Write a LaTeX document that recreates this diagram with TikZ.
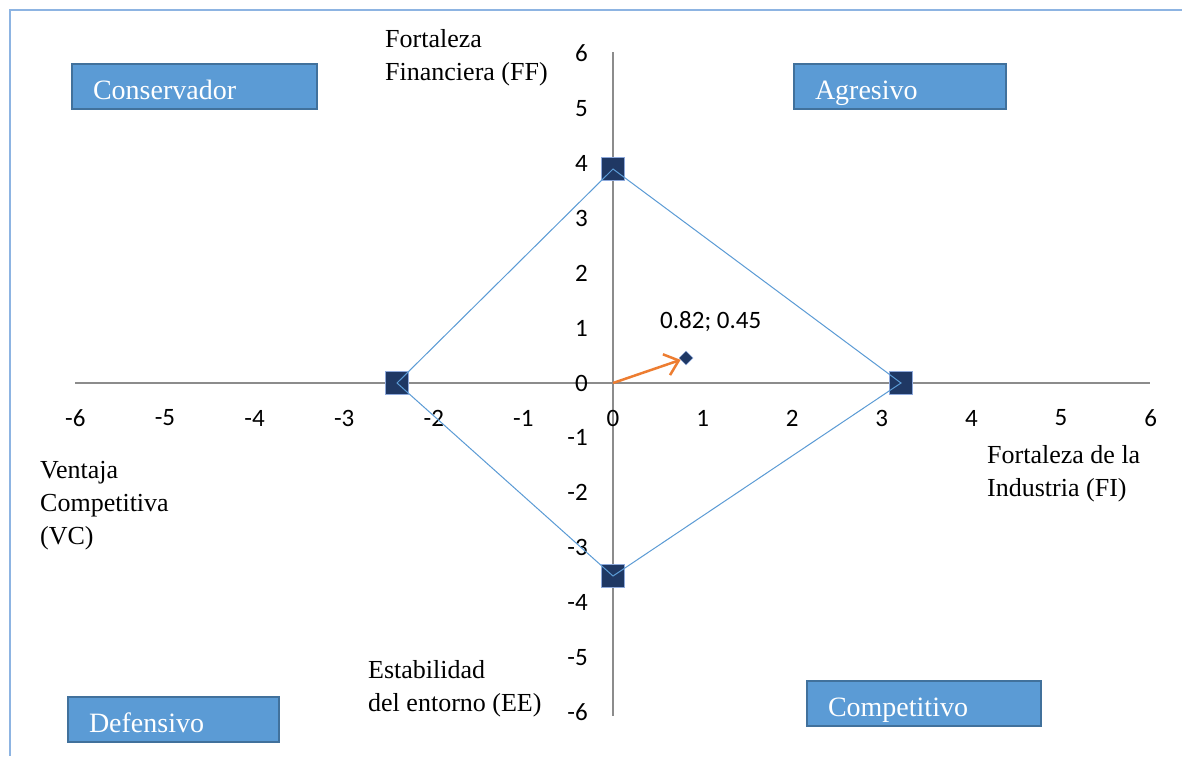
\documentclass[tikz,border=0pt]{standalone}
\usepackage{fontspec}
\setmainfont{Carlito}
\newfontfamily\tnr{Liberation Serif}
\usetikzlibrary{arrows.meta,shapes.geometric}
\definecolor{frameblue}{HTML}{8DB4E2}
\definecolor{axisgray}{HTML}{8C8C8C}
\definecolor{linkblue}{HTML}{5B9BD5}
\definecolor{navy}{HTML}{1F3864}
\definecolor{markedge}{HTML}{8EA9DB}
\definecolor{boxfill}{HTML}{5B9BD5}
\definecolor{boxedge}{HTML}{41719C}
\definecolor{arroworange}{HTML}{ED7D31}
\begin{document}
\begin{tikzpicture}[x=1pt,y=-1pt,
  tick/.style={font=\fontsize{25}{30}\selectfont, inner sep=0pt},
  axlabel/.style={font=\tnr\fontsize{26}{33}\selectfont, align=left, anchor=base west, inner sep=0pt},
  quadbox/.style={draw=boxedge, line width=2pt, fill=boxfill, text=white,
    font=\tnr\fontsize{28}{32}\selectfont, anchor=north west, align=left,
    inner xsep=21pt, inner ysep=0pt, minimum height=45pt,
    text height=26pt, text depth=0pt},
  sqmark/.style={rectangle, minimum size=23pt, inner sep=0pt, fill=navy, draw=markedge, line width=1pt},
  link/.style={draw=linkblue, line width=1pt},
  axis/.style={draw=axisgray, line width=1.3pt}]
\useasboundingbox (0,0) rectangle (1182,756);
\fill[white] (0,0) rectangle (1182,756);

% frame edges
\draw[frameblue, line width=2pt] (1182,10) -- (10,10) -- (10,756);

% axes
\coordinate (xl) at (75,383);
\coordinate (xr) at (1150,383);
\coordinate (yt) at (613,52);
\coordinate (yb) at (613,716);
\coordinate (o) at (613,383);
\draw[axis] (xl) -- (xr);
\draw[axis] (yt) -- (yb);

% tick labels
\foreach \i in {-6,...,6} {
  \node[tick] (xt\i) at ({613+89.6*\i},418) {\i};
  \node[tick, anchor=east] (yt\i) at (588,{383-54.9*\i}) {\i};
}

% quadrant boxes
\node[quadbox, text width=203pt] (cons) at (71,63) {Conservador};
\node[quadbox, text width=170pt] (agre) at (793,63) {Agresivo};
\node[quadbox, text width=169pt] (defe) at (67,696) {Defensivo};
\node[quadbox, text width=192pt] (comp) at (806,680) {Competitivo};

% axis captions (anchored on the baseline of the last line)
\node[axlabel] (ff) at (385,80) {Fortaleza\\Financiera (FF)};
\node[axlabel] (fi) at (987,496) {Fortaleza de la\\Industria (FI)};
\node[axlabel] (vc) at (40,544) {Ventaja\\Competitiva\\(VC)};
\node[axlabel] (ee) at (368,711) {Estabilidad\\del entorno (EE)};

% position polygon
\node[sqmark] (ptop) at (613,169) {};
\node[sqmark] (pright) at (901,383) {};
\node[sqmark] (pbottom) at (613,576) {};
\node[sqmark] (pleft) at (397,383) {};
\draw[link] (ptop.center) -- (pright.center) -- (pbottom.center) -- (pleft.center) -- cycle;

% resulting vector
\node[diamond, fill=navy, draw=markedge, line width=0.5pt, minimum size=14pt, inner sep=0pt] (res) at (686,358) {};
\draw[draw=arroworange, line width=2.5pt, -{Straight Barb[length=13pt,width=22pt,line width=2.5pt]}] (o) -- (res);
\node[tick, anchor=base west] (reslabel) at (660,328) {0.82; 0.45};
\end{tikzpicture}
\end{document}
